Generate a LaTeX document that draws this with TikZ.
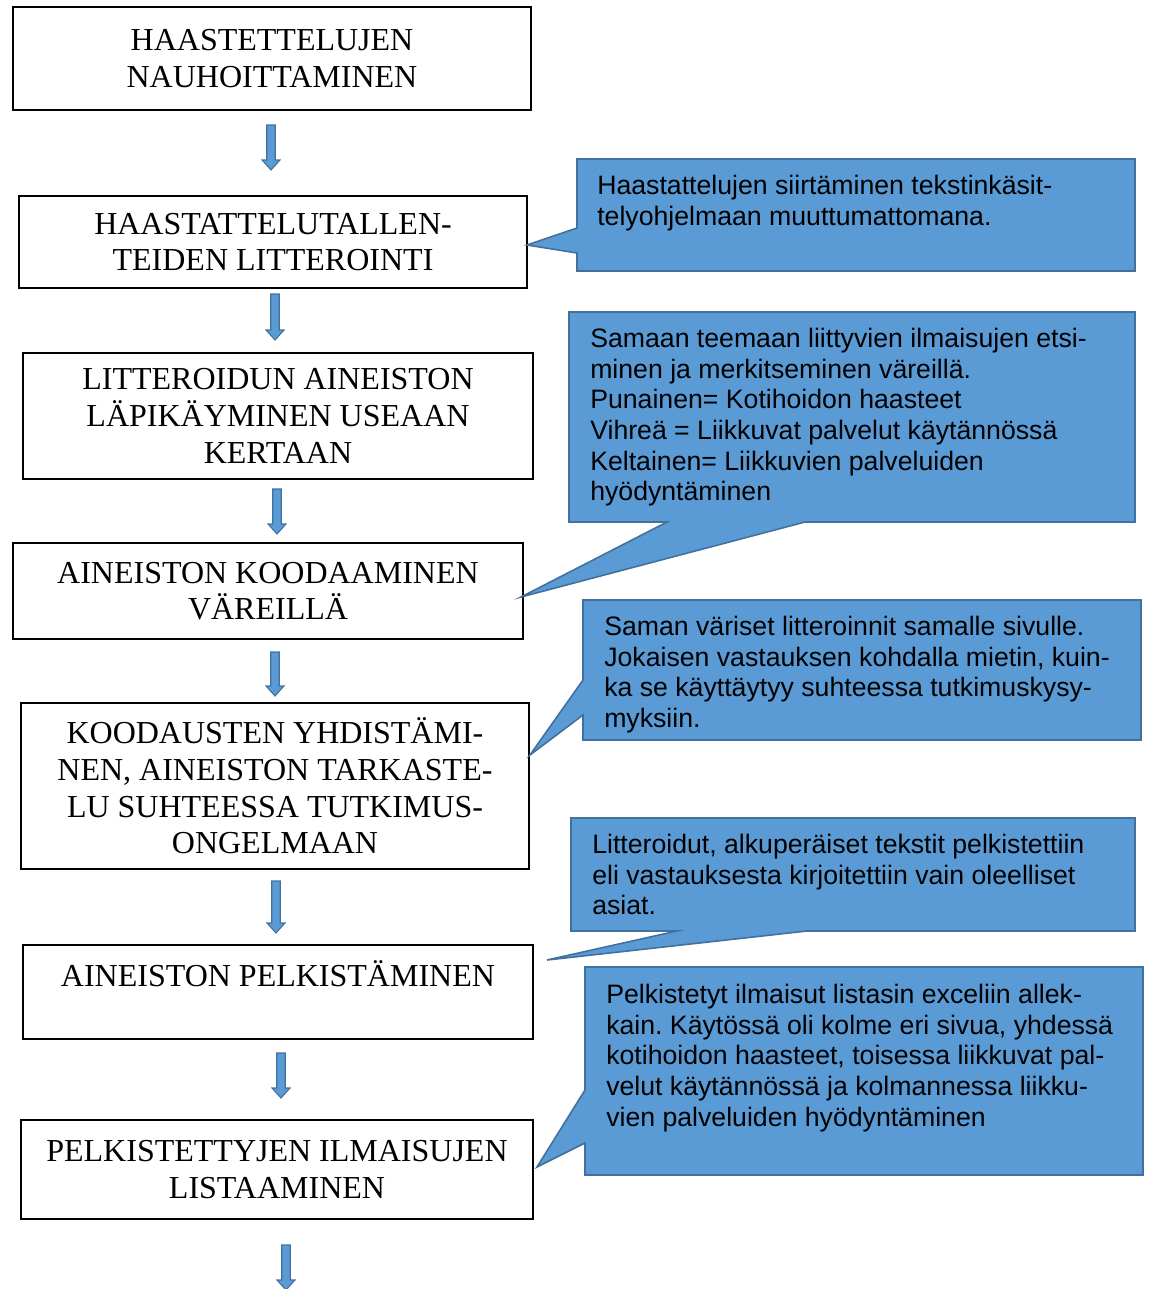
\documentclass[tikz,border=0pt]{standalone}
\usepackage{fontspec}
\setmainfont{Liberation Serif}
\newfontfamily\calloutfont{Liberation Sans}
\usetikzlibrary{calc}
\frenchspacing

\definecolor{calloutfill}{HTML}{5B9BD5}
\definecolor{calloutline}{HTML}{41719C}

\tikzset{
  stepbox/.style={draw=black, line width=1.5pt, align=center, inner sep=0.75pt,
    font=\fontsize{24}{27.5}\selectfont},
  callshape/.style={fill=calloutfill, draw=calloutline, line width=1.2pt, line join=miter},
  calltext/.style={anchor=north west, align=left, inner sep=0pt,
    font=\calloutfont\fontsize{20}{23}\selectfont},
  arrowshape/.style={fill=calloutfill, draw=calloutline, line width=0.8pt}
}

% block arrow: x and top from #1, tip at the height of #2
\newcommand{\flowarrow}[2]{%
  \path[arrowshape] let \p1=(#1), \p2=(#2) in
    (\x1-3.2pt,\y1) -- (\x1+3.2pt,\y1) -- (\x1+3.2pt,\y2-7.5pt) -- (\x1+6.75pt,\y2-7.5pt)
    -- (\x1,\y2) -- (\x1-6.75pt,\y2-7.5pt) -- (\x1-3.2pt,\y2-7.5pt) -- cycle;}

\begin{document}
\begin{tikzpicture}[x=0.75pt,y=0.75pt,yscale=-1,xscale=1]
\useasboundingbox (0,0) rectangle (1151,1289);

% Steps
\node [stepbox, minimum width=388.5pt, minimum height=77.25pt] (b1) at (272,58.5) {HAASTETTELUJEN\\NAUHOITTAMINEN};
\node [stepbox, minimum width=381pt, minimum height=69pt] (b2) at (273,242) {HAASTATTELUTALLEN-\\TEIDEN LITTEROINTI};
\node [stepbox, minimum width=382.5pt, minimum height=94.5pt] (b3) at (278,416) {LITTEROIDUN AINEISTON\\LÄPIKÄYMINEN USEAAN\\KERTAAN};
\node [stepbox, minimum width=382.5pt, minimum height=72pt] (b4) at (268,591) {AINEISTON KOODAAMINEN\\VÄREILLÄ};
\node [stepbox, minimum width=381pt, minimum height=124.5pt] (b5) at (275,786) {KOODAUSTEN YHDISTÄMI-\\NEN, AINEISTON TARKASTE-\\LU SUHTEESSA TUTKIMUS-\\ONGELMAAN};
\node [stepbox, minimum width=382.5pt, minimum height=70.5pt] (b6) at (278,992) {AINEISTON PELKISTÄMINEN\\\mbox{}};
\node [stepbox, minimum width=384pt, minimum height=74.25pt] (b7) at (277,1169.5) {PELKISTETTYJEN ILMAISUJEN\\LISTAAMINEN};

% Arrows
\flowarrow{$(b1.south)+(-1,14)$}{$(b2.north)+(0,-25)$}
\flowarrow{$(b2.south)+(2,5)$}{$(b3.north)+(0,-12)$}
\flowarrow{$(b3.south)+(-1,9)$}{$(b4.north)+(0,-8)$}
\flowarrow{$(b4.south)+(7,12)$}{$(b5.north)+(0,-6)$}
\flowarrow{$(b5.south)+(1,11)$}{$(b6.north)+(0,-11)$}
\flowarrow{$(b6.south)+(3,13)$}{$(b7.north)+(0,-21)$}
\flowarrow{$(b7.south)+(9,25)$}{$(b7.south)+(0,70)$}

%Shape: Callouts
\draw [callshape] (577,159) -- (1135,159) -- (1135,271) -- (577,271) -- (577,253) -- (527,245) -- (577,228) -- cycle;
\draw [callshape] (569,312) -- (1135,312) -- (1135,522) -- (805,522) -- (521,597) -- (667,522) -- (569,522) -- cycle;
\draw [callshape] (583,600) -- (1141,600) -- (1141,740) -- (583,740) -- (583,715) -- (530,755) -- (583,680) -- cycle;
\draw [callshape] (571,818) -- (1135,818) -- (1135,931) -- (807,931) -- (547,960) -- (677,931) -- (571,931) -- cycle;
\draw [callshape] (585,967) -- (1143,967) -- (1143,1175) -- (585,1175) -- (585,1143) -- (537,1167) -- (585,1090) -- cycle;

% Text Node
\node [calltext] (c1) at (597,175) {Haastattelujen siirtäminen tekstinkäsit-\\telyohjelmaan muuttumattomana.};
% Text Node
\node [calltext] (c2) at (590,328) {Samaan teemaan liittyvien ilmaisujen etsi-\\minen ja merkitseminen väreillä.\\Punainen= Kotihoidon haasteet\\Vihreä = Liikkuvat palvelut käytännössä\\Keltainen= Liikkuvien palveluiden\\hyödyntäminen};
% Text Node
\node [calltext] (c3) at (604,616) {Saman väriset litteroinnit samalle sivulle.\\Jokaisen vastauksen kohdalla mietin, kuin-\\ka se käyttäytyy suhteessa tutkimuskysy-\\myksiin.};
% Text Node
\node [calltext] (c4) at (592,834) {Litteroidut, alkuperäiset tekstit pelkistettiin\\eli vastauksesta kirjoitettiin vain oleelliset\\asiat.};
% Text Node
\node [calltext] (c5) at (606,984) {Pelkistetyt ilmaisut listasin exceliin allek-\\kain. Käytössä oli kolme eri sivua, yhdessä\\kotihoidon haasteet, toisessa liikkuvat pal-\\velut käytännössä ja kolmannessa liikku-\\vien palveluiden hyödyntäminen};

\end{tikzpicture}
\end{document}
